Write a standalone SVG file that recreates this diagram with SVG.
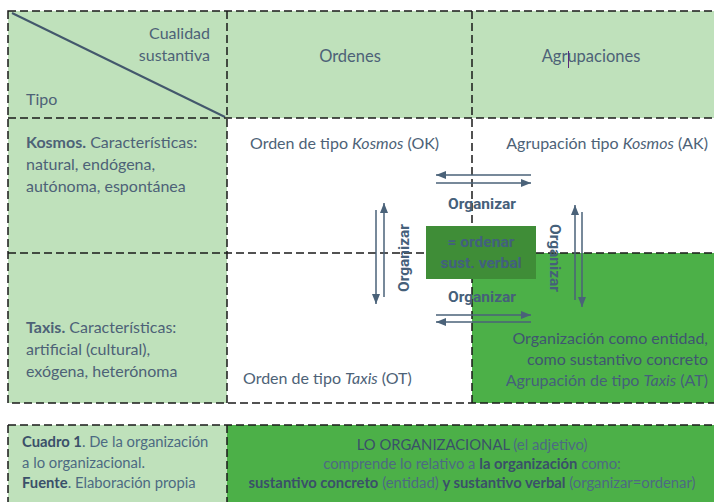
<svg xmlns="http://www.w3.org/2000/svg" width="714" height="502" viewBox="0 0 714 502">
<defs>
<style>
.t{font-family:Lato,"Open Sans","Liberation Sans",sans-serif;font-size:16px;fill:#4D6277}
.b{font-weight:bold}
.i{font-style:italic}
.org{font-family:Roboto,"Liberation Sans",sans-serif;font-weight:bold;font-size:15.5px;fill:#45607A}
.cap{font-family:Lato,"Liberation Sans",sans-serif;font-size:14.8px;fill:#4C6A82}
.capd{fill:#3A5069}
.grid{stroke:#1A1A1A;stroke-width:1.5;stroke-dasharray:8 4;fill:none}
.arr{stroke:#4A6279;stroke-width:1.5;fill:none;marker-end:url(#ah)}
</style>
<marker id="ah" viewBox="0 0 10 8" refX="10" refY="4" markerWidth="10" markerHeight="8" markerUnits="userSpaceOnUse" orient="auto">
<path d="M0,0 L10,4 L0,8 Z" fill="#4A6279"/>
</marker>
</defs>
<rect width="714" height="502" fill="#FFFFFF"/>

<g id="header">
<rect x="8" y="11" width="706" height="107" fill="#BFE1BB"/>
<line x1="12" y1="13" x2="225" y2="117" stroke="#43586C" stroke-width="2"/>
<text class="t" x="210" y="39" text-anchor="end">Cualidad</text>
<text class="t" x="210" y="61" text-anchor="end">sustantiva</text>
<text class="t" x="26" y="105">Tipo</text>
<text class="t" x="350" y="62" text-anchor="middle" style="font-size:16.5px">Ordenes</text>
<text class="t" x="591" y="62" text-anchor="middle" style="font-size:16.5px">Agrupaciones</text>
<line x1="568.5" y1="51" x2="568.5" y2="68" stroke="#5A2A7A" stroke-width="1"/>
</g>

<g id="kosmos-row">
<rect x="8" y="118" width="219" height="135" fill="#BFE1BB"/>
<text class="t" x="26" y="148"><tspan class="b">Kosmos.</tspan> Características:</text>
<text class="t" x="26" y="170">natural, endógena,</text>
<text class="t" x="26" y="192">autónoma, espontánea</text>
</g>

<g id="taxis-row">
<rect x="8" y="253" width="219" height="150" fill="#BFE1BB"/>
<text class="t" x="26" y="333"><tspan class="b">Taxis.</tspan> Características:</text>
<text class="t" x="26" y="355">artificial (cultural),</text>
<text class="t" x="26" y="377">exógena, heterónoma</text>
</g>

<g id="OK">
<text class="t" x="250" y="149">Orden de tipo <tspan class="i">Kosmos</tspan> (OK)</text>
</g>

<g id="AK">
<text class="t" x="708" y="149" text-anchor="end">Agrupación tipo <tspan class="i">Kosmos</tspan> (AK)</text>
</g>

<g id="OT">
<text class="t" x="243" y="384">Orden de tipo <tspan class="i">Taxis</tspan> (OT)</text>
</g>

<g id="AT">
<rect x="472" y="253" width="242" height="150" fill="#4CB048"/>
<text class="t" x="708" y="344" text-anchor="end" style="fill:#3F5670">Organización como entidad,</text>
<text class="t" x="708" y="365" text-anchor="end" style="fill:#3F5670">como sustantivo concreto</text>
<text class="t" x="708" y="386" text-anchor="end" style="fill:#45607A">Agrupación de tipo <tspan class="i">Taxis</tspan> (AT)</text>
</g>

<g id="grid">
<rect x="8" y="11" width="710" height="392" class="grid"/>
<line x1="227" y1="11" x2="227" y2="403" class="grid"/>
<line x1="472" y1="11" x2="472" y2="403" class="grid"/>
<line x1="8" y1="118" x2="714" y2="118" class="grid"/>
<line x1="8" y1="253" x2="714" y2="253" class="grid"/>
</g>

<g id="center">
<rect x="426" y="226" width="110" height="53" fill="#3F8D37"/>
<text class="org" x="481" y="247" text-anchor="middle" style="fill:#42607E">= ordenar</text>
<text class="org" x="481" y="268" text-anchor="middle" style="fill:#42607E">sust. verbal</text>
</g>

<g id="connectors">
<line class="arr" x1="531" y1="175" x2="436" y2="175"/>
<line class="arr" x1="436" y1="183" x2="531" y2="183"/>
<line class="arr" x1="436" y1="315" x2="531" y2="315"/>
<line class="arr" x1="531" y1="322" x2="436" y2="322"/>
<line class="arr" x1="376" y1="210" x2="376" y2="304"/>
<line class="arr" x1="384" y1="297" x2="384" y2="203"/>
<line class="arr" x1="575" y1="300" x2="575" y2="205"/>
<line class="arr" x1="582" y1="212" x2="582" y2="307"/>
<text class="org" x="482" y="209" text-anchor="middle">Organizar</text>
<text class="org" x="482" y="302" text-anchor="middle">Organizar</text>
<text class="org" transform="translate(409,258) rotate(-90)" text-anchor="middle">Organizar</text>
<text class="org" transform="translate(550,258) rotate(90)" text-anchor="middle">Organizar</text>
</g>

<g id="caption">
<rect x="8" y="425" width="219" height="80" fill="#BFE1BB"/>
<rect x="227" y="425" width="487" height="80" fill="#4CB048"/>
<path d="M8,425 H714 M8,425 V505 M227,425 V505" class="grid"/>
<text class="cap capd" x="22" y="447"><tspan class="b">Cuadro 1</tspan><tspan style="fill:#4C6A82">. De la organización</tspan></text>
<text class="cap" x="22" y="468">a lo organizacional.</text>
<text class="cap capd" x="22" y="488"><tspan class="b">Fuente</tspan><tspan style="fill:#4C6A82">. Elaboración propia</tspan></text>
<text class="cap" x="472" y="450" text-anchor="middle"><tspan class="capd">LO ORGANIZACIONAL</tspan> (el adjetivo)</text>
<text class="cap" x="472" y="469" text-anchor="middle">comprende lo relativo a <tspan class="capd b">la organización</tspan> como:</text>
<text class="cap" x="472" y="488" text-anchor="middle"><tspan class="capd b">sustantivo concreto</tspan> (entidad) <tspan class="capd b">y sustantivo verbal</tspan> (organizar=ordenar)</text>
</g>
</svg>
